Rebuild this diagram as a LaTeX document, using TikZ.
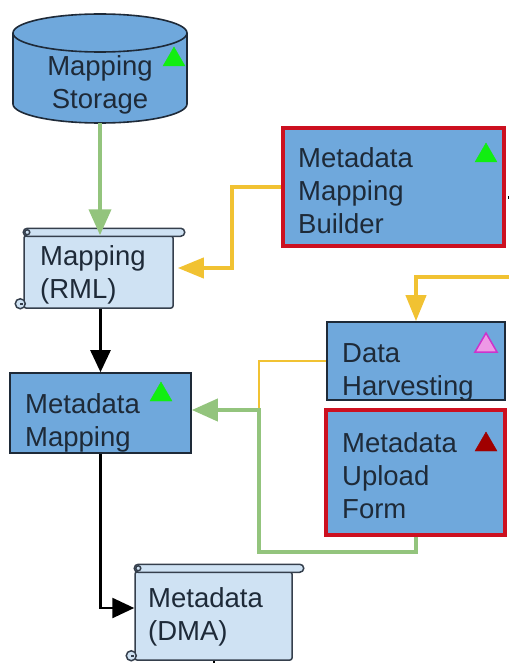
\documentclass[tikz,border=0pt]{standalone}
\usepackage{fontspec}
\setmainfont{Liberation Sans}
\usetikzlibrary{arrows.meta,calc}
\definecolor{boxblue}{HTML}{6FA8DC}
\definecolor{scrollblue}{HTML}{CFE2F3}
\definecolor{redb}{HTML}{CC1020}
\definecolor{greenc}{HTML}{93C47D}
\definecolor{yellowc}{HTML}{F1C232}
\definecolor{tgreen}{HTML}{11EE11}
\definecolor{tpink}{HTML}{EE99E6}
\definecolor{tpinkb}{HTML}{CC33CC}
\definecolor{tdred}{HTML}{A00000}
\definecolor{edgec}{HTML}{1E2A38}
\newcommand\mytri[3]{\filldraw[#3] (#1-11,#2+9) -- (#1+11,#2+9) -- (#1,#2-10) -- cycle;}
\newcommand\scrolldeco[1]{%
  \draw[scrollline, rounded corners=4pt] ($(#1.north west)+(0,-7)$) rectangle ($(#1.north east)+(11,1)$);
  \draw[scrollline] ($(#1.north west)+(4,-3)$) circle (2.5);
  \draw[scrollline] ($(#1.south west)+(-3,-5)$) circle (5);
  \draw[scrollline] ($(#1.south west)+(-3,-5)$) -- ($(#1.south west)+(0,-5)$);
}
\tikzset{
  txt/.style={inner sep=0pt, align=left, anchor=base west, font=\fontsize{27.5}{33}\selectfont, text=edgec},
  bluebox/.style={draw=edgec, line width=1.6pt, fill=boxblue, inner sep=0pt},
  redbox/.style={draw=redb, line width=4pt, fill=boxblue, inner sep=0pt},
  scrollbody/.style={draw=edgec!90, line width=1.5pt, fill=scrollblue, inner sep=0pt, rounded corners=2pt},
  scrollline/.style={draw=edgec!90, line width=1.5pt, fill=scrollblue},
  greenarrow/.style={draw=greenc, line width=4pt, -{Triangle[width=22pt,length=26pt]}},
  yellowarrow/.style={draw=yellowc, line width=4pt, -{Triangle[width=20pt,length=26pt]}},
  blackarrow/.style={draw=black, line width=2.5pt, -{Triangle[width=20pt,length=22pt]}},
}
\begin{document}
\begin{tikzpicture}[x=1pt,y=-1pt]
\useasboundingbox (0,0) rectangle (508,663);
% cylinder
\filldraw[draw=edgec, line width=1.6pt, fill=boxblue] (13,33) -- (13,104) arc[start angle=180, end angle=0, x radius=87, y radius=19] -- (187,33);
\draw[draw=edgec, line width=1.6pt, fill=boxblue] (100,33) ellipse [x radius=87, y radius=19];
\coordinate (cylbot) at (100,123);
\node[txt, align=center, anchor=base] (storeT) at (100,109) {Mapping\\Storage};
\mytri{174}{57}{tgreen}
% Mapping (RML) scroll
\node[scrollbody, minimum width=149pt, minimum height=72pt] (rml) at (98.5,272) {};
\scrolldeco{rml}
\node[txt] (rmlT) at (40,298) {Mapping\\(RML)};
% Metadata Mapping
\node[bluebox, minimum width=181pt, minimum height=80pt] (mm) at (100.5,413) {};
\node[txt] (mmT) at (25,446) {Metadata\\Mapping};
\mytri{161}{392}{tgreen}
% Metadata (DMA) scroll
\node[scrollbody, minimum width=157pt, minimum height=88pt] (dma) at (213.5,616) {};
\scrolldeco{dma}
\node[txt] (dmaT) at (148,640) {Metadata\\(DMA)};
% Metadata Mapping Builder
\node[redbox, minimum width=221pt, minimum height=118pt] (mmb) at (393.5,187) {};
\node[txt] (mmbT) at (298,233) {Metadata\\Mapping\\Builder};
\mytri{486}{153}{tgreen}
% Data Harvesting
\node[bluebox, minimum width=178pt, minimum height=78pt] (dh) at (416,361) {};
\node[txt] (dhT) at (342,395) {Data\\Harvesting};
\mytri{486}{343}{fill=tpink, draw=tpinkb, line width=1.5pt}
% Metadata Upload Form
\node[redbox, minimum width=179pt, minimum height=125pt] (muf) at (415.5,472.5) {};
\node[txt] (mufT) at (342,518) {Metadata\\Upload\\Form};
\mytri{486}{442}{tdred}
% connectors
\draw[greenarrow] (cylbot) -- (cylbot |- rml.north);
\draw[blackarrow] (mm.north |- rml.south) -- (mm.north);
\draw[blackarrow] (mm.south) |- ($(dma.west)+(0,-8)$);
\draw[black, line width=2pt] (dma.south) -- ++(0,5);
\draw[yellowarrow] (mmb.west) -- ++(-49,0) |- ($(rml.east)+(4,-4)$);
\coordinate (yin) at (510,277);
\draw[yellowarrow] (yin) -| (dh.north);
\draw[black, line width=3pt] ($(mmb.east)+(2,10)$) -- ++(4,0);
\coordinate (j) at (259,410);
\draw[yellowc, line width=2pt] (dh.west) -| (j);
\draw[greenarrow] (muf.south) -- ++(0,15) -| (j) -- (j -| mm.east);
\end{tikzpicture}
\end{document}
